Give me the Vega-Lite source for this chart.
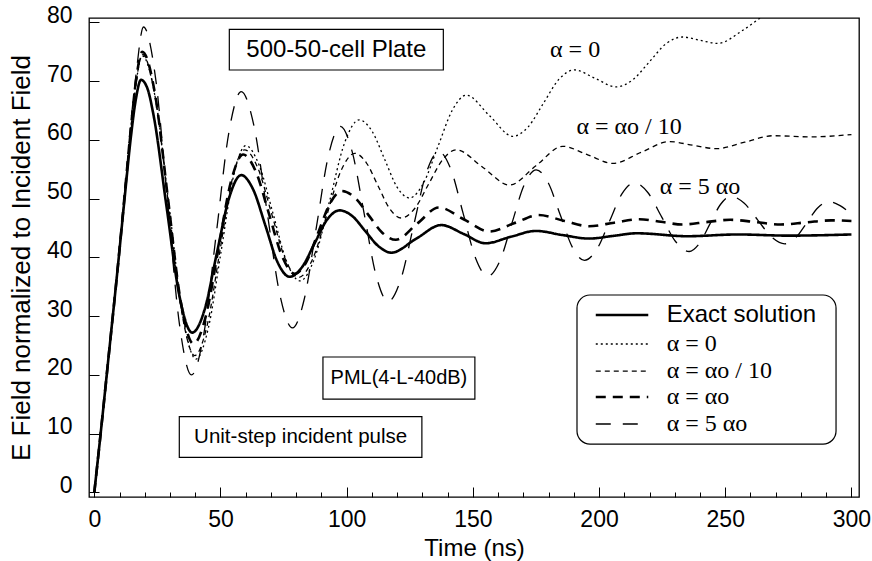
{
  "$schema": "https://vega.github.io/schema/vega-lite/v6.json",
  "width": 770,
  "height": 479,
  "autosize": {"type": "none"},
  "padding": {"left": 89, "top": 18, "right": 13, "bottom": 64},
  "background": "white",
  "config": {
    "view": {"stroke": "#000", "strokeWidth": 1.3},
    "axis": {"labelFont": "Liberation Sans", "titleFont": "Liberation Sans", "labelColor": "#000", "titleColor": "#000", "tickColor": "#000", "tickWidth": 1, "domain": false, "grid": false, "titleFontWeight": "normal"}
  },
  "resolve": {"axis": {"x": "independent", "y": "independent"}},
  "datasets": {
    "curves": [
      {"series":"Exact solution","time":0,"field":0},{"series":"Exact solution","time":3,"field":12},{"series":"Exact solution","time":6,"field":24.5},{"series":"Exact solution","time":9,"field":37},{"series":"Exact solution","time":12,"field":50},{"series":"Exact solution","time":14.5,"field":60.5},{"series":"Exact solution","time":16.5,"field":67},{"series":"Exact solution","time":18.5,"field":70.2},{"series":"Exact solution","time":21,"field":68.8},{"series":"Exact solution","time":23.6,"field":63.9},{"series":"Exact solution","time":28.6,"field":48.7},{"series":"Exact solution","time":33.7,"field":33.5},{"series":"Exact solution","time":38.8,"field":27.2},{"series":"Exact solution","time":43.7,"field":31.1},{"series":"Exact solution","time":48.5,"field":40.6},{"series":"Exact solution","time":53.4,"field":50.1},{"series":"Exact solution","time":58.2,"field":54.0},{"series":"Exact solution","time":63,"field":51.5},{"series":"Exact solution","time":67.8,"field":45.4},{"series":"Exact solution","time":72.6,"field":39.2},{"series":"Exact solution","time":77.4,"field":36.7},{"series":"Exact solution","time":82.4,"field":38.4},{"series":"Exact solution","time":87.3,"field":42.4},{"series":"Exact solution","time":92.2,"field":46.4},{"series":"Exact solution","time":97.2,"field":48.0},{"series":"Exact solution","time":102.3,"field":47.0},{"series":"Exact solution","time":107.5,"field":44.4},{"series":"Exact solution","time":112.6,"field":41.9},{"series":"Exact solution","time":117.7,"field":40.8},{"series":"Exact solution","time":127.6,"field":43.2},{"series":"Exact solution","time":137.5,"field":45.5},{"series":"Exact solution","time":146.3,"field":44.0},{"series":"Exact solution","time":155,"field":42.4},{"series":"Exact solution","time":165,"field":43.5},{"series":"Exact solution","time":175,"field":44.5},{"series":"Exact solution","time":185.5,"field":43.8},{"series":"Exact solution","time":196,"field":43.2},{"series":"Exact solution","time":205.5,"field":43.65},{"series":"Exact solution","time":215,"field":44.1},{"series":"Exact solution","time":235,"field":43.6},{"series":"Exact solution","time":255,"field":43.9},{"series":"Exact solution","time":275,"field":43.7},{"series":"Exact solution","time":300,"field":43.9},
      {"series":"α = 0","time":0,"field":0},{"series":"α = 0","time":3,"field":12},{"series":"α = 0","time":6,"field":24.5},{"series":"α = 0","time":9,"field":37},{"series":"α = 0","time":12,"field":50.5},{"series":"α = 0","time":14.5,"field":62},{"series":"α = 0","time":16.5,"field":69.5},{"series":"α = 0","time":19,"field":74.3},{"series":"α = 0","time":24.3,"field":66.8},{"series":"α = 0","time":29.7,"field":48.5},{"series":"α = 0","time":35,"field":30.2},{"series":"α = 0","time":40.3,"field":22.7},{"series":"α = 0","time":45.2,"field":28.0},{"series":"α = 0","time":50.2,"field":40.9},{"series":"α = 0","time":55.1,"field":53.7},{"series":"α = 0","time":60,"field":59.0},{"series":"α = 0","time":65.4,"field":55.6},{"series":"α = 0","time":70.8,"field":47.5},{"series":"α = 0","time":76.1,"field":39.4},{"series":"α = 0","time":81.5,"field":36.0},{"series":"α = 0","time":87.4,"field":40.0},{"series":"α = 0","time":93.3,"field":49.7},{"series":"α = 0","time":99.1,"field":59.4},{"series":"α = 0","time":105,"field":63.4},{"series":"α = 0","time":110,"field":61.5},{"series":"α = 0","time":115,"field":56.75},{"series":"α = 0","time":119.9,"field":52.0},{"series":"α = 0","time":124.9,"field":50.1},{"series":"α = 0","time":130.5,"field":52.7},{"series":"α = 0","time":136.2,"field":58.9},{"series":"α = 0","time":141.8,"field":65.0},{"series":"α = 0","time":147.4,"field":67.6},{"series":"α = 0","time":156.6,"field":64.1},{"series":"α = 0","time":165.8,"field":60.6},{"series":"α = 0","time":171.9,"field":62.2},{"series":"α = 0","time":178,"field":66.25},{"series":"α = 0","time":184.1,"field":70.3},{"series":"α = 0","time":190.2,"field":71.9},{"series":"α = 0","time":198.5,"field":70.45},{"series":"α = 0","time":206.7,"field":69.0},{"series":"α = 0","time":213.3,"field":70.2},{"series":"α = 0","time":219.9,"field":73.25},{"series":"α = 0","time":226.4,"field":76.3},{"series":"α = 0","time":233,"field":77.5},{"series":"α = 0","time":240,"field":76.95},{"series":"α = 0","time":247,"field":76.4},{"series":"α = 0","time":256.8,"field":78.6},{"series":"α = 0","time":263.4,"field":80.6},{"series":"α = 0","time":270,"field":82.8},{"series":"α = 0","time":280,"field":85.5},
      {"series":"α = αo / 10","time":0,"field":0},{"series":"α = αo / 10","time":3,"field":12},{"series":"α = αo / 10","time":6,"field":24.5},{"series":"α = αo / 10","time":9,"field":37},{"series":"α = αo / 10","time":12,"field":50.5},{"series":"α = αo / 10","time":14.5,"field":62},{"series":"α = αo / 10","time":16.5,"field":69.5},{"series":"α = αo / 10","time":19,"field":74.6},{"series":"α = αo / 10","time":24.2,"field":67.1},{"series":"α = αo / 10","time":29.4,"field":48.95},{"series":"α = αo / 10","time":34.6,"field":30.8},{"series":"α = αo / 10","time":39.8,"field":23.3},{"series":"α = αo / 10","time":44.7,"field":28.4},{"series":"α = αo / 10","time":49.65,"field":40.8},{"series":"α = αo / 10","time":54.6,"field":53.2},{"series":"α = αo / 10","time":59.5,"field":58.3},{"series":"α = αo / 10","time":64.9,"field":55.1},{"series":"α = αo / 10","time":70.25,"field":47.45},{"series":"α = αo / 10","time":75.6,"field":39.8},{"series":"α = αo / 10","time":81,"field":36.6},{"series":"α = αo / 10","time":86.5,"field":39.7},{"series":"α = αo / 10","time":92.1,"field":47.15},{"series":"α = αo / 10","time":97.6,"field":54.6},{"series":"α = αo / 10","time":103.2,"field":57.7},{"series":"α = αo / 10","time":107.8,"field":56.1},{"series":"α = αo / 10","time":112.4,"field":52.2},{"series":"α = αo / 10","time":117,"field":48.3},{"series":"α = αo / 10","time":121.6,"field":46.7},{"series":"α = αo / 10","time":127.1,"field":48.4},{"series":"α = αo / 10","time":132.5,"field":52.5},{"series":"α = αo / 10","time":138,"field":56.6},{"series":"α = αo / 10","time":143.4,"field":58.3},{"series":"α = αo / 10","time":154,"field":55.3},{"series":"α = αo / 10","time":164.5,"field":52.3},{"series":"α = αo / 10","time":175,"field":55.6},{"series":"α = αo / 10","time":185.6,"field":58.9},{"series":"α = αo / 10","time":195.5,"field":57.45},{"series":"α = αo / 10","time":205.5,"field":56.0},{"series":"α = αo / 10","time":216.6,"field":57.85},{"series":"α = αo / 10","time":227.8,"field":59.7},{"series":"α = αo / 10","time":237,"field":59.1},{"series":"α = αo / 10","time":246.5,"field":58.5},{"series":"α = αo / 10","time":257.7,"field":59.6},{"series":"α = αo / 10","time":269,"field":60.7},{"series":"α = αo / 10","time":284,"field":60.5},{"series":"α = αo / 10","time":300,"field":60.9},
      {"series":"α = αo","time":0,"field":0},{"series":"α = αo","time":3,"field":12},{"series":"α = αo","time":6,"field":24.5},{"series":"α = αo","time":9,"field":37},{"series":"α = αo","time":12,"field":50.5},{"series":"α = αo","time":14.5,"field":62},{"series":"α = αo","time":16.5,"field":70},{"series":"α = αo","time":19,"field":75.0},{"series":"α = αo","time":24.1,"field":67.7},{"series":"α = αo","time":29.15,"field":50.15},{"series":"α = αo","time":34.2,"field":32.6},{"series":"α = αo","time":39.3,"field":25.3},{"series":"α = αo","time":44.2,"field":30.0},{"series":"α = αo","time":49.15,"field":41.4},{"series":"α = αo","time":54.1,"field":52.8},{"series":"α = αo","time":59,"field":57.5},{"series":"α = αo","time":64.1,"field":54.5},{"series":"α = αo","time":69.25,"field":47.35},{"series":"α = αo","time":74.4,"field":40.2},{"series":"α = αo","time":79.5,"field":37.2},{"series":"α = αo","time":84.1,"field":39.3},{"series":"α = αo","time":88.75,"field":44.25},{"series":"α = αo","time":93.4,"field":49.2},{"series":"α = αo","time":98,"field":51.3},{"series":"α = αo","time":103.4,"field":50.1},{"series":"α = αo","time":108.75,"field":47.15},{"series":"α = αo","time":114.1,"field":44.2},{"series":"α = αo","time":119.5,"field":43.0},{"series":"α = αo","time":128,"field":45.75},{"series":"α = αo","time":136.5,"field":48.5},{"series":"α = αo","time":146.5,"field":46.45},{"series":"α = αo","time":156.6,"field":44.4},{"series":"α = αo","time":166.3,"field":45.8},{"series":"α = αo","time":176,"field":47.2},{"series":"α = αo","time":186,"field":46.25},{"series":"α = αo","time":196,"field":45.3},{"series":"α = αo","time":206,"field":45.9},{"series":"α = αo","time":216,"field":46.5},{"series":"α = αo","time":224.5,"field":46.05},{"series":"α = αo","time":233,"field":45.6},{"series":"α = αo","time":242.5,"field":46.0},{"series":"α = αo","time":252,"field":46.4},{"series":"α = αo","time":262,"field":46.0},{"series":"α = αo","time":272,"field":45.6},{"series":"α = αo","time":282,"field":45.95},{"series":"α = αo","time":292,"field":46.3},{"series":"α = αo","time":300,"field":46.2},
      {"series":"α = 5 αo","time":0,"field":0},{"series":"α = 5 αo","time":3,"field":12},{"series":"α = 5 αo","time":6,"field":24.5},{"series":"α = 5 αo","time":9,"field":37.5},{"series":"α = 5 αo","time":12,"field":51},{"series":"α = 5 αo","time":14.5,"field":63},{"series":"α = 5 αo","time":16.5,"field":71},{"series":"α = 5 αo","time":19.5,"field":79.2},{"series":"α = 5 αo","time":24.25,"field":70.6},{"series":"α = 5 αo","time":29,"field":49.6},{"series":"α = 5 αo","time":33.75,"field":28.6},{"series":"α = 5 αo","time":38.5,"field":20.0},{"series":"α = 5 αo","time":43.4,"field":27.0},{"series":"α = 5 αo","time":48.35,"field":44.1},{"series":"α = 5 αo","time":53.3,"field":61.2},{"series":"α = 5 αo","time":58.2,"field":68.2},{"series":"α = 5 αo","time":63.3,"field":62.3},{"series":"α = 5 αo","time":68.35,"field":48.1},{"series":"α = 5 αo","time":73.4,"field":33.9},{"series":"α = 5 αo","time":78.5,"field":28.0},{"series":"α = 5 αo","time":83.25,"field":33.0},{"series":"α = 5 αo","time":88,"field":45.15},{"series":"α = 5 αo","time":92.75,"field":57.3},{"series":"α = 5 αo","time":97.5,"field":62.3},{"series":"α = 5 αo","time":102.2,"field":57.95},{"series":"α = 5 αo","time":106.95,"field":47.4},{"series":"α = 5 αo","time":111.7,"field":36.85},{"series":"α = 5 αo","time":116.4,"field":32.5},{"series":"α = 5 αo","time":121.4,"field":36.2},{"series":"α = 5 αo","time":126.45,"field":45.25},{"series":"α = 5 αo","time":131.5,"field":54.3},{"series":"α = 5 αo","time":136.5,"field":58.0},{"series":"α = 5 αo","time":141.35,"field":54.9},{"series":"α = 5 αo","time":146.2,"field":47.4},{"series":"α = 5 αo","time":151.05,"field":39.9},{"series":"α = 5 αo","time":155.9,"field":36.8},{"series":"α = 5 αo","time":160.7,"field":39.4},{"series":"α = 5 αo","time":165.5,"field":45.85},{"series":"α = 5 αo","time":170.3,"field":52.3},{"series":"α = 5 αo","time":175.1,"field":54.9},{"series":"α = 5 αo","time":179.9,"field":52.65},{"series":"α = 5 αo","time":184.65,"field":47.2},{"series":"α = 5 αo","time":189.4,"field":41.75},{"series":"α = 5 αo","time":194.2,"field":39.5},{"series":"α = 5 αo","time":199.15,"field":41.4},{"series":"α = 5 αo","time":204.1,"field":46.1},{"series":"α = 5 αo","time":209.05,"field":50.8},{"series":"α = 5 αo","time":214,"field":52.7},{"series":"α = 5 αo","time":219.4,"field":51.0},{"series":"α = 5 αo","time":224.85,"field":46.85},{"series":"α = 5 αo","time":230.3,"field":42.7},{"series":"α = 5 αo","time":235.7,"field":41.0},{"series":"α = 5 αo","time":239.8,"field":42.4},{"series":"α = 5 αo","time":243.95,"field":45.7},{"series":"α = 5 αo","time":248.1,"field":49.0},{"series":"α = 5 αo","time":252.2,"field":50.4},{"series":"α = 5 αo","time":257.55,"field":49.2},{"series":"α = 5 αo","time":262.9,"field":46.35},{"series":"α = 5 αo","time":268.25,"field":43.5},{"series":"α = 5 αo","time":273.6,"field":42.3},{"series":"α = 5 αo","time":277.95,"field":43.35},{"series":"α = 5 αo","time":282.35,"field":45.9},{"series":"α = 5 αo","time":286.7,"field":48.45},{"series":"α = 5 αo","time":291.1,"field":49.5},{"series":"α = 5 αo","time":295.5,"field":48.8},{"series":"α = 5 αo","time":300,"field":47.3}
    ]
  },
  "layer": [
    {
      "data": {"name": "curves"},
      "mark": {"type": "line", "interpolate": "monotone", "clip": true, "color": "#000"},
      "encoding": {
        "x": {"field": "time", "type": "quantitative", "scale": {"domain": [-2.1, 303], "nice": false, "zero": false},
          "axis": {"title": "Time (ns)", "orient": "bottom", "values": [0,10,20,30,40,50,60,70,80,90,100,110,120,130,140,150,160,170,180,190,200,210,220,230,240,250,260,270,280,290,300],
            "tickSize": {"condition": {"test": "datum.value % 50 === 0", "value": -10}, "value": -5},
            "labelExpr": "datum.value % 50 === 0 ? datum.label : ''", "labelFontSize": 23, "titleFontSize": 24, "labelPadding": 21, "titlePadding": 0, "labelFlush": false, "labelOverlap": false}},
        "y": {"field": "field", "type": "quantitative", "scale": {"domain": [-0.77, 80.73], "nice": false, "zero": false},
          "axis": {"title": "E Field normalized to Incident Field", "orient": "left", "values": [0,10,20,30,40,50,60,70,80], "tickSize": -10, "labelPadding": 27, "labelBaseline": "alphabetic", "labelFontSize": 23, "titleFontSize": 26, "titlePadding": 12, "labelFlush": false, "labelOverlap": false}},
        "strokeDash": {"field": "series", "type": "nominal", "legend": null,
          "scale": {"domain": ["Exact solution", "α = 0", "α = αo / 10", "α = αo", "α = 5 αo"], "range": [[1, 0], [2, 3], [5, 4], [10, 7], [15, 12]]}},
        "strokeWidth": {"condition": {"test": "datum.series === 'Exact solution' || datum.series === 'α = αo'", "value": 2.6}, "value": 1.3}
      }
    },
    {
      "data": {"values": [{}]},
      "mark": {"type": "rect", "fill": "white", "stroke": "#000", "strokeWidth": 1.2},
      "encoding": {"x": {"datum": 53.5, "type": "quantitative", "axis": null}, "x2": {"datum": 138.3}, "y": {"datum": 78.81, "type": "quantitative", "axis": null}, "y2": {"datum": 71.88}}
    },
    {
      "data": {"values": [{}]},
      "mark": {"type": "text", "text": "500-50-cell Plate", "font": "Liberation Sans", "fontSize": 24, "align": "center", "baseline": "middle", "color": "#000"},
      "encoding": {"x": {"datum": 95.9, "type": "quantitative", "axis": null}, "y": {"datum": 75.34, "type": "quantitative", "axis": null}}
    },
    {
      "data": {"values": [{}]},
      "mark": {"type": "rect", "fill": "white", "stroke": "#000", "strokeWidth": 1.2},
      "encoding": {"x": {"datum": 33.68, "type": "quantitative", "axis": null}, "x2": {"datum": 129.8}, "y": {"datum": 12.89, "type": "quantitative", "axis": null}, "y2": {"datum": 5.98}}
    },
    {
      "data": {"values": [{}]},
      "mark": {"type": "text", "text": "Unit-step incident pulse", "font": "Liberation Sans", "fontSize": 20.5, "align": "center", "baseline": "middle", "color": "#000"},
      "encoding": {"x": {"datum": 81.76, "type": "quantitative", "axis": null}, "y": {"datum": 9.44, "type": "quantitative", "axis": null}}
    },
    {
      "data": {"values": [{}]},
      "mark": {"type": "rect", "fill": "white", "stroke": "#000", "strokeWidth": 1.2},
      "encoding": {"x": {"datum": 90.6, "type": "quantitative", "axis": null}, "x2": {"datum": 150.8}, "y": {"datum": 23.05, "type": "quantitative", "axis": null}, "y2": {"datum": 15.9}}
    },
    {
      "data": {"values": [{}]},
      "mark": {"type": "text", "text": "PML(4-L-40dB)", "font": "Liberation Sans", "fontSize": 20, "align": "center", "baseline": "middle", "color": "#000"},
      "encoding": {"x": {"datum": 120.7, "type": "quantitative", "axis": null}, "y": {"datum": 19.47, "type": "quantitative", "axis": null}}
    },
    {
      "data": {"values": [{}]},
      "mark": {"type": "text", "text": "α = 0", "font": "Liberation Serif", "fontSize": 24, "align": "center", "baseline": "middle", "color": "#000"},
      "encoding": {"x": {"datum": 190.5, "type": "quantitative", "axis": null}, "y": {"datum": 75.3, "type": "quantitative", "axis": null}}
    },
    {
      "data": {"values": [{}]},
      "mark": {"type": "text", "text": "α = αo / 10", "font": "Liberation Serif", "fontSize": 24, "align": "center", "baseline": "middle", "color": "#000"},
      "encoding": {"x": {"datum": 211.9, "type": "quantitative", "axis": null}, "y": {"datum": 62.1, "type": "quantitative", "axis": null}}
    },
    {
      "data": {"values": [{}]},
      "mark": {"type": "text", "text": "α = 5 αo", "font": "Liberation Serif", "fontSize": 24, "align": "center", "baseline": "middle", "color": "#000"},
      "encoding": {"x": {"datum": 240.0, "type": "quantitative", "axis": null}, "y": {"datum": 52.06, "type": "quantitative", "axis": null}}
    },
    {
      "data": {"values": [{}]},
      "mark": {"type": "rect", "fill": "white", "stroke": "#000", "strokeWidth": 1.2, "cornerRadius": 13},
      "encoding": {"x": {"datum": 191.26, "type": "quantitative", "axis": null}, "x2": {"datum": 293.9}, "y": {"datum": 33.6, "type": "quantitative", "axis": null}, "y2": {"datum": 8.24}}
    },
    {
      "data": {"values": [{}]},
      "mark": {"type": "rule", "color": "#000", "strokeWidth": 2.6},
      "encoding": {"x": {"datum": 198.7, "type": "quantitative", "axis": null}, "x2": {"datum": 219.5}, "y": {"datum": 30.19, "type": "quantitative", "axis": null}}
    },
    {
      "data": {"values": [{}]},
      "mark": {"type": "rule", "color": "#000", "strokeWidth": 1.3, "strokeDash": [2, 3]},
      "encoding": {"x": {"datum": 198.7, "type": "quantitative", "axis": null}, "x2": {"datum": 219.5}, "y": {"datum": 25.26, "type": "quantitative", "axis": null}}
    },
    {
      "data": {"values": [{}]},
      "mark": {"type": "rule", "color": "#000", "strokeWidth": 1.3, "strokeDash": [5, 4]},
      "encoding": {"x": {"datum": 198.7, "type": "quantitative", "axis": null}, "x2": {"datum": 219.5}, "y": {"datum": 20.66, "type": "quantitative", "axis": null}}
    },
    {
      "data": {"values": [{}]},
      "mark": {"type": "rule", "color": "#000", "strokeWidth": 2.6, "strokeDash": [10, 7]},
      "encoding": {"x": {"datum": 198.7, "type": "quantitative", "axis": null}, "x2": {"datum": 219.5}, "y": {"datum": 16.24, "type": "quantitative", "axis": null}}
    },
    {
      "data": {"values": [{}]},
      "mark": {"type": "rule", "color": "#000", "strokeWidth": 1.3, "strokeDash": [15, 12]},
      "encoding": {"x": {"datum": 198.7, "type": "quantitative", "axis": null}, "x2": {"datum": 219.5}, "y": {"datum": 11.65, "type": "quantitative", "axis": null}}
    },
    {
      "data": {"values": [{}]},
      "mark": {"type": "text", "text": "Exact solution", "font": "Liberation Sans", "fontSize": 24, "align": "left", "baseline": "middle", "color": "#000"},
      "encoding": {"x": {"datum": 226.8, "type": "quantitative", "axis": null}, "y": {"datum": 30.19, "type": "quantitative", "axis": null}}
    },
    {
      "data": {"values": [{}]},
      "mark": {"type": "text", "text": "α = 0", "font": "Liberation Serif", "fontSize": 24, "align": "left", "baseline": "middle", "color": "#000"},
      "encoding": {"x": {"datum": 226.8, "type": "quantitative", "axis": null}, "y": {"datum": 25.26, "type": "quantitative", "axis": null}}
    },
    {
      "data": {"values": [{}]},
      "mark": {"type": "text", "text": "α = αo / 10", "font": "Liberation Serif", "fontSize": 24, "align": "left", "baseline": "middle", "color": "#000"},
      "encoding": {"x": {"datum": 226.8, "type": "quantitative", "axis": null}, "y": {"datum": 20.66, "type": "quantitative", "axis": null}}
    },
    {
      "data": {"values": [{}]},
      "mark": {"type": "text", "text": "α = αo", "font": "Liberation Serif", "fontSize": 24, "align": "left", "baseline": "middle", "color": "#000"},
      "encoding": {"x": {"datum": 226.8, "type": "quantitative", "axis": null}, "y": {"datum": 16.24, "type": "quantitative", "axis": null}}
    },
    {
      "data": {"values": [{}]},
      "mark": {"type": "text", "text": "α = 5 αo", "font": "Liberation Serif", "fontSize": 24, "align": "left", "baseline": "middle", "color": "#000"},
      "encoding": {"x": {"datum": 226.8, "type": "quantitative", "axis": null}, "y": {"datum": 11.65, "type": "quantitative", "axis": null}}
    }
  ]
}
